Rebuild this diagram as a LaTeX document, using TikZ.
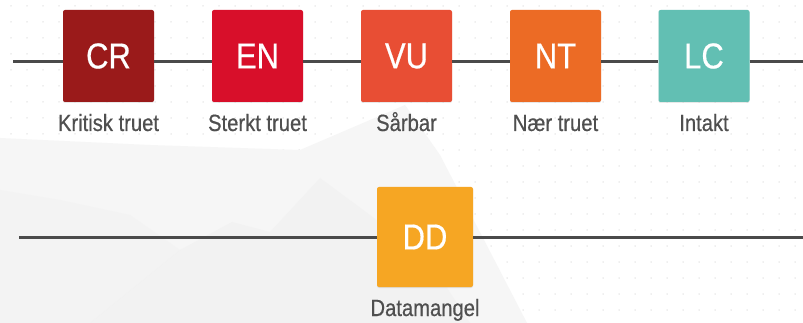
\documentclass[tikz,border=0pt]{standalone}
\usepackage{fontspec}
\setmainfont{Liberation Sans}[FakeStretch=0.86, FakeBold=0.5]
\usetikzlibrary{shadows}

\definecolor{crcol}{HTML}{9A1A1A}
\definecolor{encol}{HTML}{D80F2A}
\definecolor{vucol}{HTML}{E84E34}
\definecolor{ntcol}{HTML}{EC6B25}
\definecolor{lccol}{HTML}{62BFB3}
\definecolor{ddcol}{HTML}{F6A623}
\definecolor{linecol}{HTML}{4A4A4A}
\definecolor{labelcol}{HTML}{4F4F4F}
\definecolor{dotcol}{HTML}{E0E0E0}
\definecolor{hillA}{HTML}{F6F6F6}
\definecolor{hillB}{HTML}{F1F1F1}

\tikzset{
  catbox/.style={minimum width=91pt, minimum height=92pt, rounded corners=2pt,
    inner sep=0pt, text=white, font=\fontsize{36}{36}\selectfont,
    drop shadow={opacity=0.18, shadow xshift=0pt, shadow yshift=-1pt}},
  bigbox/.style={catbox, minimum width=96pt, minimum height=100pt},
  catlabel/.style={text=labelcol, font=\fontsize{23.5}{23.5}\selectfont,
    inner sep=0pt, anchor=base},
  scaleline/.style={line width=3pt, draw=linecol}
}

\begin{document}
\begin{tikzpicture}[x=1pt, y=-1pt]
  \useasboundingbox (0,0) rectangle (803,323);
  \fill[white] (0,0) rectangle (803,323);

  % dotted paper texture
  \foreach \i in {0,...,50} {
    \foreach \j in {0,...,20} {
      \fill[dotcol] ({11+16*\i},{6+16*\j}) circle (0.75pt);
    }
  }

  % faint hills on the left
  \fill[hillA] (0,323) -- (0,138) -- (150,145) -- (300,150) -- (405,105)
    -- (440,155) -- (527,323) -- cycle;
  \fill[hillB, opacity=0.8] (90,323) -- (180,250) -- (232,222) -- (270,232)
    -- (320,178) -- (370,215) -- (430,262) -- (470,323) -- cycle;
  \fill[hillB, opacity=0.6] (0,190) -- (60,200) -- (130,215) -- (180,250)
    -- (90,323) -- (0,323) -- cycle;

  % threat categories
  \node[catbox, fill=crcol] (cr) at (108.5,56) {CR};
  \node[catbox, fill=encol] (en) at (257.5,56) {EN};
  \node[catbox, fill=vucol] (vu) at (406.5,56) {VU};
  \node[catbox, fill=ntcol] (nt) at (555.5,56) {NT};
  \node[catbox, fill=lccol] (lc) at (704,56) {LC};
  \node[bigbox, fill=ddcol] (dd) at (425,237) {DD};

  \node[catlabel] (crl) at (108.5,131) {Kritisk truet};
  \node[catlabel] (enl) at (257.5,131) {Sterkt truet};
  \node[catlabel] (vul) at (406.5,131) {Sårbar};
  \node[catlabel] (ntl) at (555.5,131) {Nær truet};
  \node[catlabel] (lcl) at (704,131) {Intakt};
  \node[catlabel] (ddl) at (425,316) {Datamangel};

  % scale lines
  \coordinate (topL) at (13,62);
  \coordinate (topR) at (803,62);
  \coordinate (botL) at (19,237);
  \coordinate (botR) at (803,237);
  \draw[scaleline] (topL) -- (topL -| cr.west);
  \draw[scaleline] (topL -| cr.east) -- (topL -| en.west);
  \draw[scaleline] (topL -| en.east) -- (topL -| vu.west);
  \draw[scaleline] (topL -| vu.east) -- (topL -| nt.west);
  \draw[scaleline] (topL -| nt.east) -- (topL -| lc.west);
  \draw[scaleline] (topL -| lc.east) -- (topR);
  \draw[scaleline] (botL) -- (dd.west);
  \draw[scaleline] (dd.east) -- (botR);
\end{tikzpicture}
\end{document}
